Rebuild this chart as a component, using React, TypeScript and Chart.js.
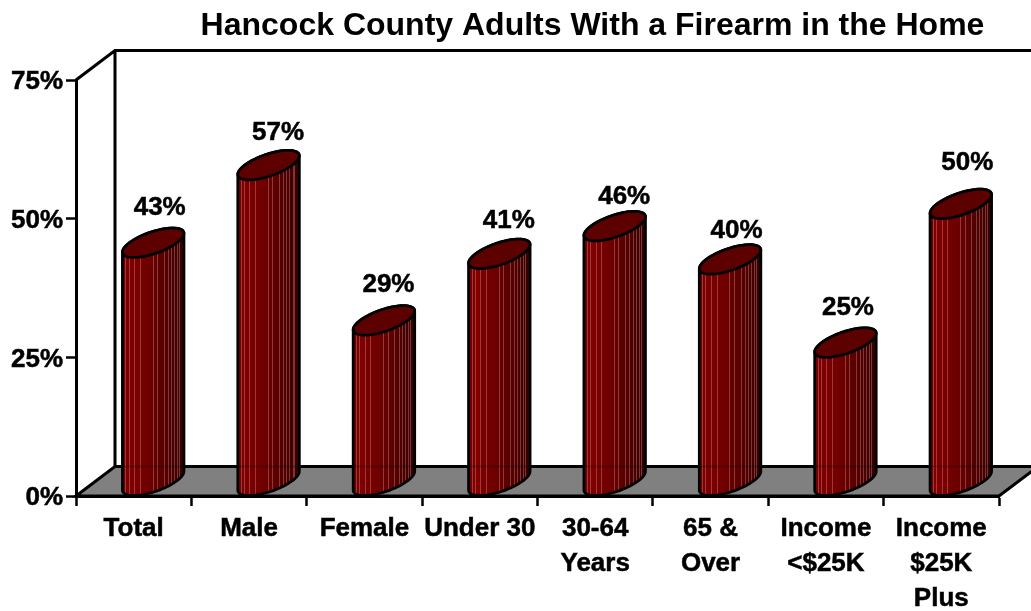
import React, { useEffect, useRef } from "react";
import { Chart, registerables } from "chart.js";

Chart.register(...registerables);

const TITLE = "Hancock County Adults With a Firearm in the Home";
const categories: (string | string[])[] = [
  "Total",
  "Male",
  "Female",
  "Under 30",
  ["30-64", "Years"],
  ["65 &", "Over"],
  ["Income", "<$25K"],
  ["Income", "$25K", "Plus"],
];
const percentages = [43, 57, 29, 41, 46, 40, 25, 50];
const yTicks = [0, 25, 50, 75];

// Style constants (not data)
const FONT = "'Liberation Sans', Arial, sans-serif";
const DEPTH_X = 39;
const DEPTH_Y = -29.5;
const labelNudgeX = [26, 29, 24, 29, 29, 26, 22, 26];
const labelNudgeY = [0, 3, 0, 2, 6, 7, 0, -6];
const stripeFractions = [0.05, 0.1, 0.19, 0.28, 0.49, 0.56, 0.67, 0.74, 0.79, 0.84, 0.89, 0.92];

function ellipsePoint(cx: number, cy: number, w: number, t: number) {
  return {
    x: cx + (w / 2) * Math.cos(t) + (DEPTH_X / 2) * Math.sin(t),
    y: cy + (DEPTH_Y / 2) * Math.sin(t),
  };
}

function drawCylinder(ctx: CanvasRenderingContext2D, front: number, top: number, base: number, w: number, floorBackY: number) {
  const cx = front + DEPTH_X / 2;
  const topY = top + DEPTH_Y / 2;
  const baseY = base + DEPTH_Y / 2;
  const t0 = Math.atan2(DEPTH_X / 2, w / 2);
  const halfW = Math.hypot(w / 2, DEPTH_X / 2);
  const bodyPath = () => {
    ctx.beginPath();
    const tl = ellipsePoint(cx, topY, w, t0 - Math.PI);
    ctx.moveTo(tl.x, tl.y);
    const n = 48;
    for (let i = 0; i <= n; i++) {
      const p = ellipsePoint(cx, baseY, w, t0 - Math.PI + (Math.PI * i) / n);
      ctx.lineTo(p.x, p.y);
    }
    for (let i = 0; i <= n; i++) {
      const p = ellipsePoint(cx, topY, w, t0 + (Math.PI * i) / n);
      ctx.lineTo(p.x, p.y);
    }
    ctx.closePath();
  };
  const left = cx - halfW;
  const width = halfW * 2;

  ctx.save();
  bodyPath();
  ctx.save();
  ctx.clip();
  const g = ctx.createLinearGradient(left, 0, left + width, 0);
  g.addColorStop(0, "#6c0000");
  g.addColorStop(0.1, "#800000");
  g.addColorStop(0.4, "#700000");
  g.addColorStop(0.75, "#500000");
  g.addColorStop(1, "#340000");
  ctx.fillStyle = g;
  ctx.fillRect(left, topY - 40, width, baseY - topY + 80);
  ctx.fillStyle = "rgba(255,190,190,0.3)";
  for (const f of stripeFractions) {
    ctx.fillRect(Math.round(left + f * width), topY - 40, 1, baseY - topY + 80);
  }
  // The floor's back edge shows faintly through the bar
  ctx.fillStyle = "rgba(0,0,0,0.28)";
  ctx.fillRect(left, floorBackY - 1, width, 2);
  ctx.restore();

  ctx.lineWidth = 2.75;
  ctx.lineJoin = "round";
  ctx.strokeStyle = "#000";
  bodyPath();
  ctx.stroke();

  // Top cap
  ctx.beginPath();
  for (let i = 0; i <= 64; i++) {
    const p = ellipsePoint(cx, topY, w, (Math.PI * 2 * i) / 64);
    if (i === 0) ctx.moveTo(p.x, p.y);
    else ctx.lineTo(p.x, p.y);
  }
  ctx.closePath();
  ctx.fillStyle = "#5c0000";
  ctx.fill();
  ctx.stroke();
  ctx.restore();
}

const stagePlugin = {
  id: "stage",
  afterLayout(chart: any) {
    // Centre the title over the reference's position
    if (chart.titleBlock) {
      chart.titleBlock.left = 154;
      chart.titleBlock.right = 1031;
    }
  },
  beforeDraw(chart: any) {
    const { ctx, chartArea: a } = chart;
    ctx.save();
    ctx.lineWidth = 3;
    ctx.strokeStyle = "#000";
    ctx.lineJoin = "miter";
    // Floor
    ctx.beginPath();
    ctx.moveTo(a.left, a.bottom);
    ctx.lineTo(a.left + DEPTH_X, a.bottom + DEPTH_Y);
    ctx.lineTo(a.right + DEPTH_X, a.bottom + DEPTH_Y);
    ctx.lineTo(a.right, a.bottom);
    ctx.closePath();
    ctx.fillStyle = "#808080";
    ctx.fill();
    ctx.stroke();
    // Back wall edges
    ctx.beginPath();
    ctx.moveTo(a.left, a.top);
    ctx.lineTo(a.left + DEPTH_X, a.top + DEPTH_Y);
    ctx.lineTo(a.right + DEPTH_X, a.top + DEPTH_Y);
    ctx.moveTo(a.left + DEPTH_X, a.top + DEPTH_Y);
    ctx.lineTo(a.left + DEPTH_X, a.bottom + DEPTH_Y);
    ctx.stroke();
    ctx.restore();
  },
  afterDatasetsDraw(chart: any) {
    const { ctx, chartArea: a } = chart;
    const meta = chart.getDatasetMeta(0);
    meta.data.forEach((bar: any) => {
      drawCylinder(ctx, bar.x, bar.y, bar.base, bar.width, a.bottom + DEPTH_Y);
    });
    ctx.save();
    ctx.fillStyle = "#000";
    ctx.strokeStyle = "#000";
    ctx.lineWidth = 0.5;
    ctx.font = `bold 26px ${FONT}`;
    ctx.textAlign = "center";
    ctx.textBaseline = "middle";
    meta.data.forEach((bar: any, i: number) => {
      const tx = bar.x + labelNudgeX[i];
      const ty = bar.y - 50 + labelNudgeY[i];
      ctx.fillText(`${percentages[i]}%`, tx, ty);
      ctx.strokeText(`${percentages[i]}%`, tx, ty);
    });
    ctx.restore();
  },
};

export default function App() {
  const ref = useRef<HTMLCanvasElement>(null);
  useEffect(() => {
    if (!ref.current) return;
    const chart = new Chart(ref.current, {
      type: "bar",
      data: {
        labels: categories as any,
        datasets: [
          {
            label: "Adults with a firearm in the home",
            data: percentages,
            backgroundColor: "rgba(0,0,0,0)",
            borderWidth: 0,
            barThickness: 47.6,
          },
        ],
      },
      options: {
        responsive: false,
        animation: false,
        devicePixelRatio: 1,
        layout: { padding: { left: 0, right: 32, top: 0, bottom: 0 } },
        events: [],
        plugins: {
          legend: { display: false },
          tooltip: { enabled: false },
          title: {
            display: true,
            text: TITLE,
            color: "#000",
            font: { family: FONT, size: 32, weight: "bold", lineHeight: 1.2 },
            padding: { top: 6.5, bottom: 35.1 },
          },
        },
        scales: {
          x: {
            type: "category",
            afterFit: (s: any) => {
              s.height = 115;
            },
            border: { color: "#000", width: 3 },
            grid: {
              drawOnChartArea: false,
              drawTicks: true,
              tickLength: 10,
              tickColor: (c: any) => (c.index === categories.length ? "#9a9a9a" : "#000"),
              tickWidth: (c: any) => (c.index === categories.length ? 1.5 : 2.5),
            },
            ticks: {
              color: "#000",
              autoSkip: false,
              maxRotation: 0,
              minRotation: 0,
              padding: 5,
              textStrokeColor: "#000",
              textStrokeWidth: 0.5,
              font: { family: FONT, size: 26, weight: "bold", lineHeight: 1.346 },
            },
          },
          y: {
            type: "linear",
            min: 0,
            max: 75,
            afterFit: (s: any) => {
              s.width = 76;
            },
            afterBuildTicks: (s: any) => {
              s.ticks = yTicks.map((value) => ({ value }));
            },
            border: { color: "#000", width: 3 },
            grid: {
              drawOnChartArea: false,
              drawTicks: true,
              tickLength: 10,
              tickColor: "#000",
              tickWidth: 2.5,
            },
            ticks: {
              color: "#000",
              padding: 3,
              labelOffset: 2,
              textStrokeColor: "#000",
              textStrokeWidth: 0.5,
              callback: (v: any) => `${v}%`,
              font: { family: FONT, size: 26, weight: "bold" },
            },
          },
        },
      } as any,
      plugins: [stagePlugin as any],
    });
    return () => chart.destroy();
  }, []);
  return (
    <div style={{ position: "fixed", left: 0, top: 0, width: 1031, height: 611, background: "#fff", overflow: "hidden" }}>
      <canvas ref={ref} width={1031} height={611} style={{ display: "block" }} />
    </div>
  );
}
